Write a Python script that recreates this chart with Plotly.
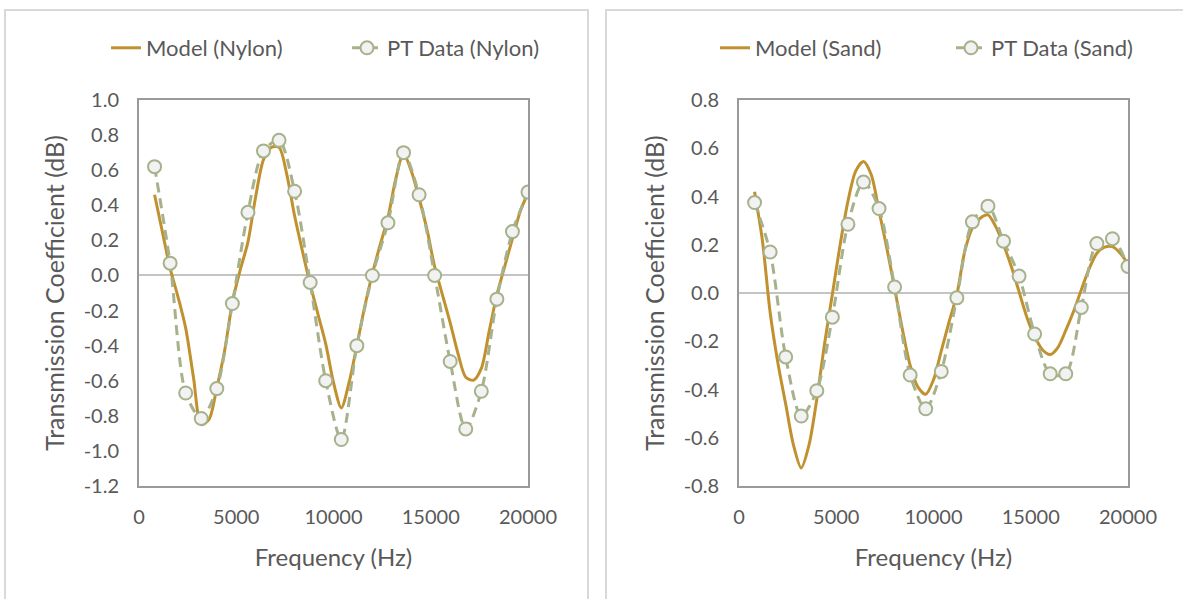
import plotly.graph_objects as go

# Frequencies (Hz)
freq_pt = [800, 1600, 2400, 3200, 4000, 4800, 5600, 6400, 7200, 8000,
           8800, 9600, 10400, 11200, 12000, 12800, 13600, 14400, 15200, 16000,
           16800, 17600, 18400, 19200, 20000]
freq_model = [800, 1200, 1600, 2000, 2400, 2800, 3200, 3600, 4000, 4400,
              4800, 5200, 5600, 6000, 6400, 6800, 7200, 7600, 8000, 8400,
              8800, 9200, 9600, 10000, 10400, 10800, 11200, 11600, 12000, 12400,
              12800, 13200, 13600, 14000, 14400, 14800, 15200, 15600, 16000, 16400,
              16800, 17200, 17600, 18000, 18400, 18800, 19200, 19600, 20000]

# Transmission coefficient (dB) - nylon
nylon_model = [0.46, 0.25, 0.04, -0.12, -0.30, -0.58, -0.85, -0.82, -0.64, -0.43,
               -0.155, 0.03, 0.19, 0.45, 0.66, 0.73, 0.73, 0.575, 0.34, 0.14,
               -0.05, -0.22, -0.39, -0.61, -0.755, -0.61, -0.40, -0.18, 0.01, 0.175,
               0.33, 0.55, 0.695, 0.595, 0.44, 0.265, 0.05, -0.11, -0.27, -0.445,
               -0.58, -0.597, -0.53, -0.32, -0.11, 0.05, 0.21, 0.365, 0.47]
nylon_pt = [0.62, 0.07, -0.67, -0.815, -0.645, -0.16, 0.36, 0.71, 0.77, 0.48,
            -0.04, -0.60, -0.935, -0.40, 0.0, 0.30, 0.70, 0.46, 0.0, -0.49,
            -0.875, -0.66, -0.135, 0.25, 0.475]

# Transmission coefficient (dB) - sand
sand_model = [0.42, 0.22, -0.08, -0.29, -0.46, -0.63, -0.725, -0.63, -0.44, -0.21,
              -0.005, 0.20, 0.38, 0.505, 0.545, 0.49, 0.34, 0.186, 0.02, -0.15,
              -0.30, -0.39, -0.42, -0.36, -0.24, -0.12, -0.007, 0.17, 0.27, 0.31,
              0.324, 0.275, 0.20, 0.11, 0.005, -0.10, -0.18, -0.235, -0.255, -0.225,
              -0.155, -0.077, 0.013, 0.10, 0.165, 0.19, 0.192, 0.165, 0.12]
sand_pt = [0.375, 0.17, -0.265, -0.51, -0.405, -0.10, 0.285, 0.46, 0.35, 0.025,
           -0.34, -0.48, -0.325, -0.02, 0.295, 0.36, 0.215, 0.07, -0.17, -0.335,
           -0.335, -0.06, 0.205, 0.225, 0.11]

x_ticks = [0, 5000, 10000, 15000, 20000]
y_ticks_nylon = [1.0, 0.8, 0.6, 0.4, 0.2, 0.0, -0.2, -0.4, -0.6, -0.8, -1.0, -1.2]
y_ticks_sand = [0.8, 0.6, 0.4, 0.2, 0.0, -0.2, -0.4, -0.6, -0.8]

W, H = 1183, 599
FONT = "Lato"
TXT = "#595959"
GOLD = "#c0912e"
OLIVE = "#a6b28c"


def px(x):
    return x / W


def py(y):
    return 1 - y / H


def fmt_y(vals):
    return [f"{v:.1f}" if abs(v) > 1e-9 else "0.0" for v in vals]


fig = go.Figure()


def add_pair(xa, ya, legend, model, pt, label):
    fig.add_trace(go.Scatter(
        x=freq_model, y=model, mode="lines", name=f"Model ({label})",
        line=dict(color=GOLD, width=3, shape="spline", smoothing=0.8),
        xaxis=xa, yaxis=ya, legend=legend))
    fig.add_trace(go.Scatter(
        x=freq_pt, y=pt, mode="lines+markers", name=f"PT Data ({label})",
        line=dict(color=OLIVE, width=3, dash="10px,6px", shape="spline", smoothing=0.8),
        marker=dict(symbol="circle", size=13, color="#f2f2f2",
                    line=dict(color=OLIVE, width=2)),
        xaxis=xa, yaxis=ya, legend=legend))


add_pair("x", "y", "legend", nylon_model, nylon_pt, "Nylon")
add_pair("x2", "y2", "legend2", sand_model, sand_pt, "Sand")

axis_font = dict(family=FONT, size=20, color=TXT)
title_font = dict(family=FONT, size=24, color=TXT)
ytitle_font = dict(family=FONT, size=25, color=TXT)

common_x = dict(range=[0, 20000], tickvals=x_ticks, ticktext=[str(v) for v in x_ticks],
                showgrid=False, zeroline=False, automargin=False,
                showline=True, mirror=True, linecolor="#9a9a9a", linewidth=2,
                ticks="", tickfont=axis_font, ticklabelstandoff=12,
                title=dict(text="Frequency (Hz)", font=title_font, standoff=22))
common_y = dict(showgrid=False, zeroline=True, zerolinecolor="#c4c4c4", zerolinewidth=2,
                automargin=False,
                showline=True, mirror=True, linecolor="#9a9a9a", linewidth=2,
                ticks="", tickfont=axis_font, ticklabelstandoff=14,
                title=dict(text="Transmission Coefficient (dB)", font=ytitle_font, standoff=12))

legend_font = dict(family=FONT, size=22, color=TXT)

fig.update_layout(
    width=W, height=H, margin=dict(l=0, r=0, t=0, b=0, autoexpand=False),
    paper_bgcolor="white", plot_bgcolor="white",
    xaxis=dict(domain=[px(139), px(528)], anchor="y", **common_x),
    yaxis=dict(domain=[py(486), py(100)], anchor="x", range=[-1.2, 1.0],
               tickvals=y_ticks_nylon, ticktext=fmt_y(y_ticks_nylon), **common_y),
    xaxis2=dict(domain=[px(739), px(1128)], anchor="y2", **common_x),
    yaxis2=dict(domain=[py(486), py(100)], anchor="x2", range=[-0.8, 0.8],
                tickvals=y_ticks_sand, ticktext=fmt_y(y_ticks_sand), **common_y),
    legend=dict(orientation="h", x=px(106), xanchor="left", y=py(48), yanchor="middle",
                font=legend_font, entrywidth=196, bgcolor="rgba(0,0,0,0)"),
    legend2=dict(orientation="h", x=px(715), xanchor="left", y=py(48), yanchor="middle",
                 font=legend_font, entrywidth=191, bgcolor="rgba(0,0,0,0)"),
    shapes=[
        dict(type="rect", xref="paper", yref="paper", x0=px(5), x1=px(588),
             y0=-0.2, y1=py(10), line=dict(color="#d9d9d9", width=2), layer="below"),
        dict(type="rect", xref="paper", yref="paper", x0=px(606), x1=1.2,
             y0=-0.2, y1=py(10), line=dict(color="#d9d9d9", width=2), layer="below"),
    ],
)

fig.write_html("out.html")
